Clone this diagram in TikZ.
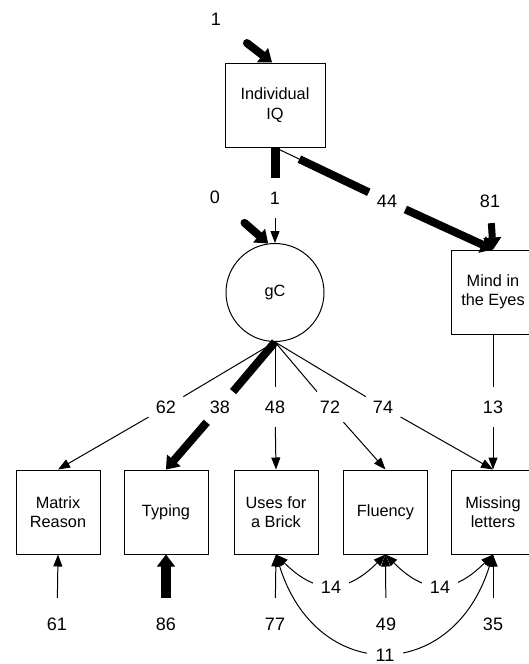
\documentclass[tikz,border=0pt]{standalone}
\usepackage{fontspec}
\setmainfont{Liberation Sans}
\usetikzlibrary{arrows.meta}
\begin{document}
\begin{tikzpicture}[x=1pt,y=-1pt,
  every node/.style={font=\fontsize{16.3pt}{19.5pt}\selectfont},
  box/.style={draw, line width=1pt, minimum width=84pt, minimum height=84pt, inner sep=0pt, align=center},
  lat/.style={draw, line width=1pt, circle, minimum size=98pt, inner sep=0pt},
  lab/.style={circle, minimum size=40pt, inner sep=0pt, font=\fontsize{18pt}{20pt}\selectfont},
  clab/.style={fill=white, minimum width=36pt, minimum height=18pt, inner sep=0pt, font=\fontsize{18pt}{20pt}\selectfont},
  arr/.style={line width=1pt, -{Triangle[length=12pt,width=9pt]}},
  darr/.style={line width=1pt, {Triangle[length=12pt,width=9pt]}-{Triangle[length=12pt,width=9pt]}},
  thk/.style={line width=8pt},
  tarr/.style={line width=8pt, -{Triangle[length=12pt,width=18pt,line width=1pt]}}
]
\useasboundingbox (0,0) rectangle (528,664);
% nodes
\node[box, minimum width=100pt] (iq) at (275,105) {Individual\\IQ};
\node[lat] (gc) at (275,292.5) {gC};
\node[box] (me) at (493,292) {Mind in\\the Eyes};
\node[box] (mr) at (58,512) {Matrix\\Reason};
\node[box] (ty) at (166,512) {Typing};
\node[box] (us) at (276,512) {Uses for\\a Brick};
\node[box] (fl) at (385.5,512) {Fluency};
\node[box] (ml) at (493,512) {Missing\\letters};
% labels
\node[lab] (e1) at (216,19) {1};
\node[lab] (e0) at (215,197) {0};
\node[lab] (p1) at (275,198) {1};
\node[lab] (p44) at (387,201) {44};
\node[lab] (e81) at (490,201) {81};
\node[lab] (p62) at (166,407) {62};
\node[lab] (p38) at (220,407) {38};
\node[lab] (p48) at (275,407) {48};
\node[lab] (p72) at (330,407) {72};
\node[lab] (p74) at (383,407) {74};
\node[lab] (p13) at (493,407) {13};
\node[lab] (e61) at (57,624) {61};
\node[lab] (e86) at (166,624) {86};
\node[lab] (e77) at (275,624) {77};
\node[lab] (e49) at (386,624) {49};
\node[lab] (e35) at (493,624) {35};
% error arrows
\draw[tarr, line cap=round, shorten <=19pt] (e1) -- ([xshift=-3pt]iq.north);
\draw[tarr, line cap=round, shorten <=19pt] (e0) -- (gc.98);
\draw[tarr, line width=7pt, shorten <=2pt] (e81) -- (me.north);
\draw[arr, shorten <=6pt] (e61) -- (mr.south);
\draw[tarr, line width=10pt, shorten <=6pt] (e86) -- (ty.south);
\draw[arr, shorten <=6pt] (e77) -- (us.south);
\draw[arr, shorten <=6pt] (e49) -- (fl.south);
\draw[arr, shorten <=6pt] (e35) -- (ml.south);
% IQ paths
\draw[line width=9pt] (iq.south) -- (p1);
\draw[arr] (p1) -- (gc.north);
\draw[line width=1pt] (iq.south) -- (p44);
\draw[thk, shorten <=27pt] (iq.south) -- (p44);
\draw[tarr] (p44) -- (me.north);
% gC loadings
\draw[line width=1pt] (gc.south) -- (p62);
\draw[arr] (p62) -- (mr.north);
\draw[thk] (gc.south) -- (p38);
\draw[tarr] (p38) -- (ty.north);
\draw[line width=1pt] (gc.south) -- (p48);
\draw[arr] (p48) -- (us.north);
\draw[line width=1pt] (gc.south) -- (p72);
\draw[arr] (p72) -- (fl.north);
\draw[line width=1pt] (gc.south) -- (p74);
\draw[arr] (p74) -- (ml.north);
\draw[line width=1pt] (me.south) -- (p13);
\draw[arr] (p13) -- (ml.north);
% covariances
\draw[darr] (us.south) .. controls +(40,40) and +(-40,40) .. (fl.south);
\draw[darr] (fl.south) .. controls +(40,40) and +(-40,40) .. (ml.south);
\draw[darr] (us.south) .. controls +(40,130) and +(-40,130) .. (ml.south);
\node[clab] (c14a) at (331,587) {14};
\node[clab] (c14b) at (440,587) {14};
\node[clab] (c11) at (385,655) {11};
\end{tikzpicture}
\end{document}
